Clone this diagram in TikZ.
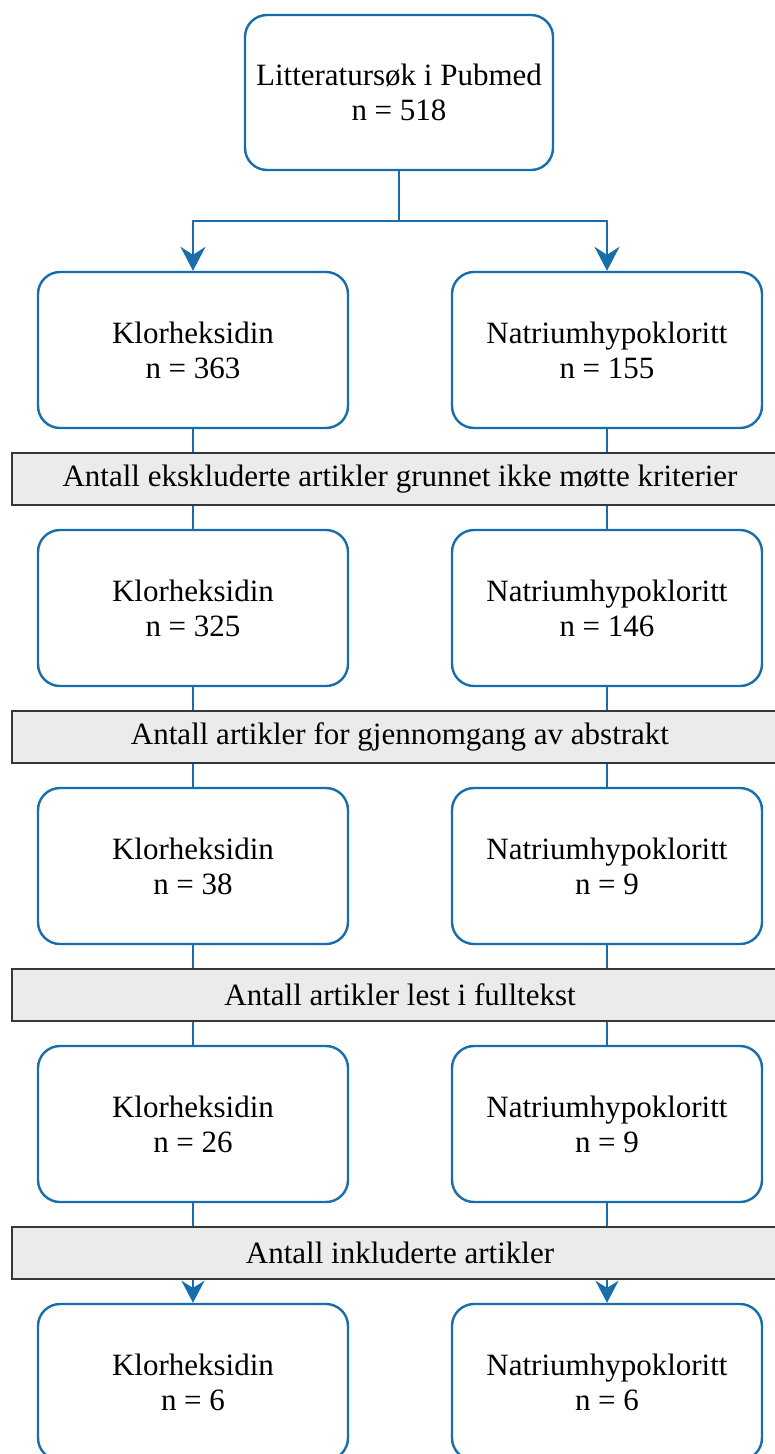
\documentclass[tikz,border=0pt]{standalone}
\usepackage{fontspec}
\setmainfont{Liberation Serif}
\usetikzlibrary{arrows.meta}
\definecolor{flowblue}{RGB}{24,110,170}
\definecolor{bargrey}{RGB}{235,235,235}
\definecolor{bardark}{RGB}{55,55,55}
\begin{document}
\begin{tikzpicture}[x=1pt,y=-1pt,
  box/.style={draw=flowblue,line width=2.4pt,rounded corners=22pt,
    minimum width=310pt,minimum height=156pt,inner sep=0pt,
    align=center,font=\fontsize{31}{35}\selectfont},
  bar/.style={draw=bardark,fill=bargrey,line width=2.2pt,
    minimum width=776pt,minimum height=52pt,inner sep=0pt,
    font=\fontsize{31}{35}\selectfont},
  link/.style={draw=flowblue,line width=2pt},
  arrowlink/.style={link,-{Stealth[length=24pt,width=25pt,inset=8pt]}}]
\useasboundingbox (0,0) rectangle (775,1454);
\clip (0,0) rectangle (775,1454);
\fill[white] (0,0) rectangle (775,1454);

\node[box,minimum width=308pt,minimum height=155pt] (top) at (399,92.5) {Litteratursøk i Pubmed\\n = 518};

\node[box] (k1) at (193,350) {Klorheksidin\\n = 363};
\node[box] (n1) at (607,350) {Natriumhypokloritt\\n = 155};
\node[bar] (b1) at (400,479) {Antall ekskluderte artikler grunnet ikke møtte kriterier};
\node[box] (k2) at (193,608) {Klorheksidin\\n = 325};
\node[box] (n2) at (607,608) {Natriumhypokloritt\\n = 146};
\node[bar] (b2) at (400,737) {Antall artikler for gjennomgang av abstrakt};
\node[box] (k3) at (193,866) {Klorheksidin\\n = 38};
\node[box] (n3) at (607,866) {Natriumhypokloritt\\n = 9};
\node[bar] (b3) at (400,995) {Antall artikler lest i fulltekst};
\node[box] (k4) at (193,1124) {Klorheksidin\\n = 26};
\node[box] (n4) at (607,1124) {Natriumhypokloritt\\n = 9};
\node[bar] (b4) at (400,1253) {Antall inkluderte artikler};
\node[box] (k5) at (193,1382) {Klorheksidin\\n = 6};
\node[box] (n5) at (607,1382) {Natriumhypokloritt\\n = 6};

\coordinate (split) at (399,221);
\draw[arrowlink] (top.south) -- (split) -| (k1.north);
\draw[arrowlink] (top.south) -- (split) -| (n1.north);

\foreach \a/\b/\c in {k1/b1/k2,n1/b1/n2,k2/b2/k3,n2/b2/n3,k3/b3/k4,n3/b3/n4}{
  \draw[link] (\a.south) -- (\a.south |- \b.north);
  \draw[link] (\c.north |- \b.south) -- (\c.north);
}
\draw[link] (k4.south) -- (k4.south |- b4.north);
\draw[link] (n4.south) -- (n4.south |- b4.north);
\draw[arrowlink,-{Stealth[length=22pt,width=23pt,inset=7pt]}] (k5.north |- b4.south) -- (k5.north);
\draw[arrowlink,-{Stealth[length=22pt,width=23pt,inset=7pt]}] (n5.north |- b4.south) -- (n5.north);
\end{tikzpicture}
\end{document}
